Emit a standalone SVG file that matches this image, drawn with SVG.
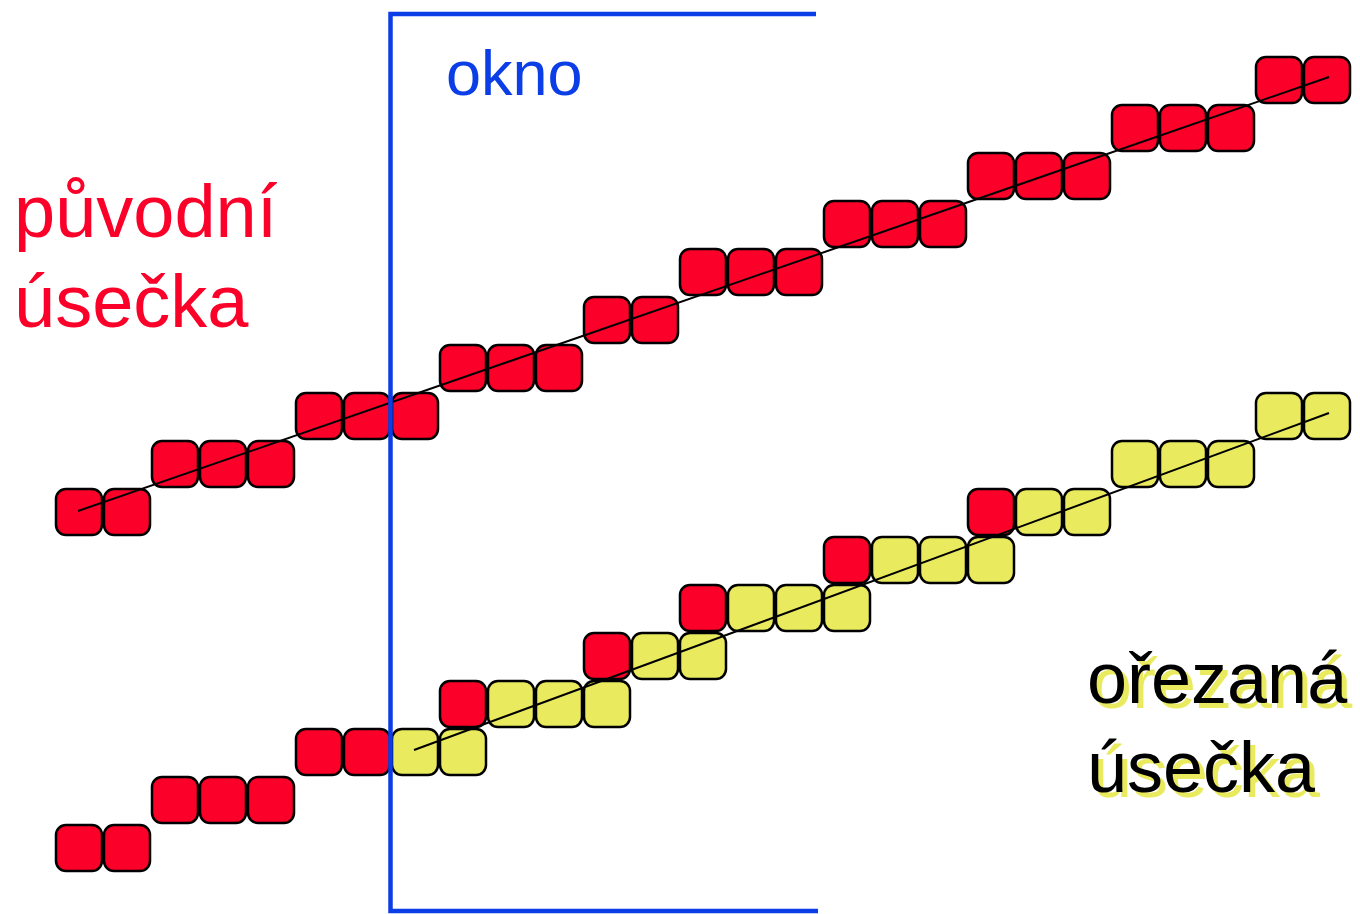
<svg xmlns="http://www.w3.org/2000/svg" xmlns:xlink="http://www.w3.org/1999/xlink" width="1360" height="914" viewBox="0 0 1360 914">
<style>
.px{stroke:#000;stroke-width:2.5}
.r{fill:#fb0029}
.y{fill:#e9ea5e}
.ln{stroke:#000;stroke-width:2;fill:none}
.win{stroke:#0b3ee6;stroke-width:4.5;fill:none}
.lbl{font-family:"Liberation Sans",Arial,sans-serif}
</style>
<defs>
<rect id="p" class="px" width="46" height="46" rx="10" ry="10"/>
</defs>
<rect width="1360" height="914" fill="#fff"/>
<g id="original">
<use xlink:href="#p" class="r" x="56" y="489"/>
<use xlink:href="#p" class="r" x="104" y="489"/>
<use xlink:href="#p" class="r" x="152" y="441"/>
<use xlink:href="#p" class="r" x="200" y="441"/>
<use xlink:href="#p" class="r" x="248" y="441"/>
<use xlink:href="#p" class="r" x="296" y="393"/>
<use xlink:href="#p" class="r" x="344" y="393"/>
<use xlink:href="#p" class="r" x="392" y="393"/>
<use xlink:href="#p" class="r" x="440" y="345"/>
<use xlink:href="#p" class="r" x="488" y="345"/>
<use xlink:href="#p" class="r" x="536" y="345"/>
<use xlink:href="#p" class="r" x="584" y="297"/>
<use xlink:href="#p" class="r" x="632" y="297"/>
<use xlink:href="#p" class="r" x="680" y="249"/>
<use xlink:href="#p" class="r" x="728" y="249"/>
<use xlink:href="#p" class="r" x="776" y="249"/>
<use xlink:href="#p" class="r" x="824" y="201"/>
<use xlink:href="#p" class="r" x="872" y="201"/>
<use xlink:href="#p" class="r" x="920" y="201"/>
<use xlink:href="#p" class="r" x="968" y="153"/>
<use xlink:href="#p" class="r" x="1016" y="153"/>
<use xlink:href="#p" class="r" x="1064" y="153"/>
<use xlink:href="#p" class="r" x="1112" y="105"/>
<use xlink:href="#p" class="r" x="1160" y="105"/>
<use xlink:href="#p" class="r" x="1208" y="105"/>
<use xlink:href="#p" class="r" x="1256" y="57"/>
<use xlink:href="#p" class="r" x="1304" y="57"/>
</g>
<g id="clipped">
<use xlink:href="#p" class="r" x="56" y="825"/>
<use xlink:href="#p" class="r" x="104" y="825"/>
<use xlink:href="#p" class="r" x="152" y="777"/>
<use xlink:href="#p" class="r" x="200" y="777"/>
<use xlink:href="#p" class="r" x="248" y="777"/>
<use xlink:href="#p" class="r" x="296" y="729"/>
<use xlink:href="#p" class="r" x="344" y="729"/>
<use xlink:href="#p" class="y" x="392" y="729"/>
<use xlink:href="#p" class="y" x="440" y="729"/>
<use xlink:href="#p" class="r" x="440" y="681"/>
<use xlink:href="#p" class="y" x="488" y="681"/>
<use xlink:href="#p" class="y" x="536" y="681"/>
<use xlink:href="#p" class="r" x="584" y="633"/>
<use xlink:href="#p" class="y" x="584" y="681"/>
<use xlink:href="#p" class="y" x="632" y="633"/>
<use xlink:href="#p" class="y" x="680" y="633"/>
<use xlink:href="#p" class="r" x="680" y="585"/>
<use xlink:href="#p" class="y" x="728" y="585"/>
<use xlink:href="#p" class="y" x="776" y="585"/>
<use xlink:href="#p" class="y" x="824" y="585"/>
<use xlink:href="#p" class="r" x="824" y="537"/>
<use xlink:href="#p" class="y" x="872" y="537"/>
<use xlink:href="#p" class="y" x="920" y="537"/>
<use xlink:href="#p" class="y" x="968" y="537"/>
<use xlink:href="#p" class="r" x="968" y="489"/>
<use xlink:href="#p" class="y" x="1016" y="489"/>
<use xlink:href="#p" class="y" x="1064" y="489"/>
<use xlink:href="#p" class="y" x="1112" y="441"/>
<use xlink:href="#p" class="y" x="1160" y="441"/>
<use xlink:href="#p" class="y" x="1208" y="441"/>
<use xlink:href="#p" class="y" x="1256" y="393"/>
<use xlink:href="#p" class="y" x="1304" y="393"/>
</g>
<g id="connectors">
<line class="ln" x1="78" y1="511" x2="1329" y2="77"/>
<line class="ln" x1="414" y1="750" x2="1329" y2="413"/>
</g>
<g id="window">
<polyline class="win" points="816,14 390.5,14 390.5,911 818,911"/>
</g>
<g id="label-okno"><text class="lbl" x="446" y="95" font-size="63" fill="#0b3ee6">okno</text></g>
<g id="label-original" class="lbl" font-size="74" fill="#fb0029">
<text x="14" y="237">původní</text>
<text x="14" y="327">úsečka</text>
</g>
<g id="label-clipped" class="lbl" font-size="72">
<text x="1092" y="708" fill="#e9ea5e">ořezaná</text>
<text x="1092" y="797" fill="#e9ea5e">úsečka</text>
<text x="1087" y="703" fill="#000">ořezaná</text>
<text x="1087" y="792" fill="#000">úsečka</text>
</g>
</svg>
